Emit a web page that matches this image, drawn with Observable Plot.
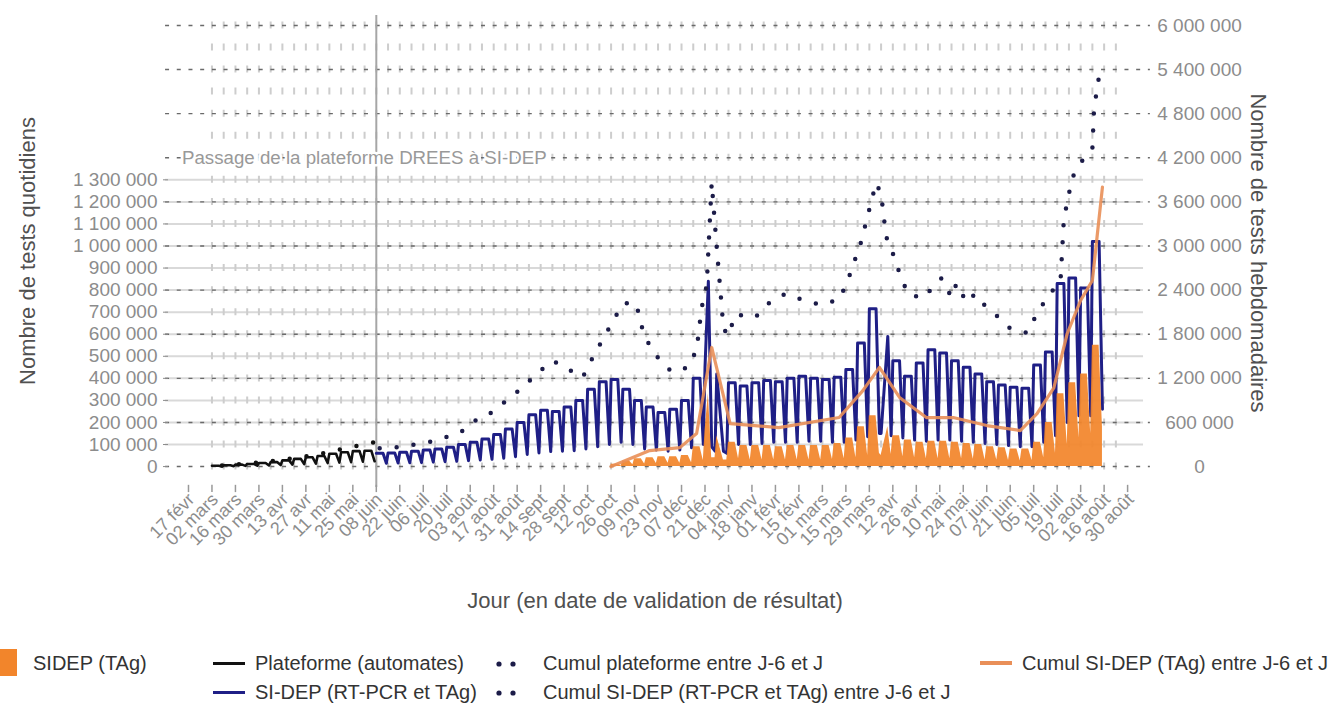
<!DOCTYPE html>
<html lang="fr">
<head>
<meta charset="utf-8">
<script src="https://cdn.jsdelivr.net/npm/d3@7"></script>
<script src="https://cdn.jsdelivr.net/npm/@observablehq/plot@0.6"></script>
<style>
html, body { margin:0; padding:0; background:#fff; width:1333px; height:711px; overflow:hidden; }
#chart svg { display:block; }
#legend { position:relative; width:1333px; height:71px; font-family:"Liberation Sans", Arial, sans-serif; font-size:20px; color:#333; }
#legend .it { position:absolute; white-space:nowrap; line-height:22px; }
</style>
</head>
<body>
<div id="chart"></div>
<div id="legend"></div>
<script>
// ---------------- DATA ----------------
// Daily series, per week: weekday level (Mon–Fri) and Sunday level, plus special days.
const plateformeWeekStart = "2020-03-02";
const plateformeWeekday = [4000, 6000, 9000, 12000, 16000, 20000, 28000, 35000, 42000, 48000, 58000, 65000, 70000, 72000];
const plateformeSunday  = [1000, 2000, 3000, 4000, 5000, 7000, 9000, 11000, 13000, 16000, 18000, 20000, 22000, 24000];

const siDepWeekStart = "2020-06-08";
const siDepWeekday = [60000, 62000, 65000, 70000, 75000, 80000, 88000, 100000, 110000, 125000,
  145000, 170000, 200000, 235000, 255000, 250000, 270000, 300000, 350000, 385000,
  395000, 350000, 300000, 270000, 245000, 260000, 300000, 400000, 450000, 420000,
  380000, 365000, 380000, 390000, 385000, 400000, 410000, 400000, 395000, 405000,
  440000, 560000, 715000, 590000, 480000, 410000, 470000, 530000, 515000, 480000,
  450000, 420000, 385000, 370000, 360000, 355000, 460000, 520000, 830000, 855000,
  810000, 1020000];
const siDepSunday = [15000, 16000, 17000, 18000, 20000, 22000, 24000, 27000, 30000, 33000,
  38000, 45000, 55000, 62000, 68000, 70000, 72000, 80000, 90000, 100000,
  110000, 100000, 80000, 75000, 70000, 75000, 85000, 100000, 70000, 60000,
  100000, 100000, 105000, 110000, 110000, 110000, 115000, 115000, 110000, 110000,
  120000, 135000, 150000, 140000, 130000, 120000, 115000, 120000, 120000, 115000,
  110000, 105000, 100000, 95000, 90000, 90000, 110000, 140000, 200000, 230000,
  230000, 260000];
const siDepSpecialDays = [["2020-12-23", 840000], ["2020-12-25", 90000], ["2021-01-01", 70000], ["2021-04-05", 150000]];

const tagWeekStart = "2020-10-26";
const tagWeekday = [10000, 25000, 35000, 40000, 45000, 45000, 50000, 90000, 160000, 140000,
  110000, 95000, 95000, 95000, 90000, 95000, 95000, 95000, 95000, 105000,
  130000, 180000, 230000, 180000, 140000, 120000, 110000, 115000, 115000, 110000,
  105000, 100000, 90000, 85000, 80000, 80000, 110000, 200000, 330000, 380000,
  420000, 550000];
const tagSunday = [3000, 8000, 12000, 14000, 15000, 15000, 17000, 28000, 40000, 30000,
  35000, 30000, 30000, 30000, 30000, 30000, 30000, 30000, 32000, 35000,
  40000, 50000, 60000, 55000, 45000, 40000, 35000, 35000, 35000, 35000,
  33000, 30000, 30000, 28000, 25000, 28000, 40000, 60000, 100000, 130000,
  150000, 180000];
const tagSpecialDays = [["2020-12-23", 330000], ["2020-12-25", 40000], ["2021-01-01", 30000], ["2021-04-05", 50000]];

// Weekly cumulative series (right axis): [date, value]
const cumulPlateforme = [
  ["2020-03-08", 15000], ["2020-03-22", 40000], ["2020-04-05", 70000], ["2020-04-19", 110000],
  ["2020-05-03", 160000], ["2020-05-17", 230000], ["2020-05-31", 300000], ["2020-06-07", 330000]
];
const cumulSiDep = [
  ["2020-06-10", 250000], ["2020-06-24", 270000], ["2020-07-11", 340000], ["2020-07-28", 460000],
  ["2020-08-06", 625000], ["2020-08-14", 707000], ["2020-08-26", 925000], ["2020-09-03", 1070000],
  ["2020-09-12", 1270000], ["2020-09-21", 1440000], ["2020-09-30", 1330000], ["2020-10-09", 1210000],
  ["2020-10-15", 1480000], ["2020-10-21", 1730000], ["2020-10-27", 1970000], ["2020-11-02", 2220000],
  ["2020-11-10", 2220000], ["2020-11-13", 1920000], ["2020-11-17", 1690000], ["2020-11-23", 1480000],
  ["2020-12-01", 1290000], ["2020-12-11", 1350000], ["2020-12-16", 1590000], ["2020-12-19", 2160000],
  ["2020-12-22", 2460000], ["2020-12-25", 3860000], ["2020-12-28", 2980000], ["2020-12-30", 2440000],
  ["2021-01-01", 1880000], ["2021-01-04", 1780000], ["2021-01-08", 2070000], ["2021-01-20", 2030000],
  ["2021-01-28", 2220000], ["2021-02-07", 2350000], ["2021-02-17", 2270000], ["2021-02-28", 2200000],
  ["2021-03-11", 2270000], ["2021-03-16", 2520000], ["2021-03-24", 3050000], ["2021-03-30", 3590000],
  ["2021-04-02", 3860000], ["2021-04-05", 3710000], ["2021-04-08", 3130000], ["2021-04-12", 2900000],
  ["2021-04-16", 2630000], ["2021-04-21", 2350000], ["2021-04-30", 2290000], ["2021-05-11", 2560000],
  ["2021-05-17", 2300000], ["2021-05-20", 2490000], ["2021-05-26", 2230000], ["2021-05-31", 2350000],
  ["2021-06-04", 2230000], ["2021-06-13", 2050000], ["2021-06-21", 1880000], ["2021-07-01", 1820000],
  ["2021-07-07", 2080000], ["2021-07-13", 2300000], ["2021-07-21", 2530000], ["2021-07-23", 3370000],
  ["2021-07-28", 3930000], ["2021-08-03", 4160000], ["2021-08-09", 4330000], ["2021-08-10", 4870000],
  ["2021-08-14", 5460000]
];
const cumulTag = [
  ["2020-10-26", 0], ["2020-11-18", 218000], ["2020-12-06", 258000], ["2020-12-16", 449000],
  ["2020-12-25", 1620000], ["2021-01-05", 585000], ["2021-02-03", 530000], ["2021-03-11", 667000],
  ["2021-03-25", 1030000], ["2021-04-04", 1350000], ["2021-04-16", 940000], ["2021-05-02", 667000],
  ["2021-05-18", 667000], ["2021-06-07", 558000], ["2021-06-27", 490000], ["2021-07-07", 721000],
  ["2021-07-17", 1070000], ["2021-07-25", 1810000], ["2021-08-02", 2260000], ["2021-08-09", 2530000],
  ["2021-08-12", 3170000], ["2021-08-15", 3800000]
];

// Axes
const leftTicks  = [0, 100000, 200000, 300000, 400000, 500000, 600000, 700000, 800000, 900000, 1000000, 1100000, 1200000, 1300000];
const rightTicks = [0, 600000, 1200000, 1800000, 2400000, 3000000, 3600000, 4200000, 4800000, 5400000, 6000000];
const xTickStart = "2020-02-17";
const xTickLabels = ["17 févr","02 mars","16 mars","30 mars","13 avr","27 avr","11 mai","25 mai","08 juin","22 juin",
  "06 juil","20 juil","03 août","17 août","31 août","14 sept","28 sept","12 oct","26 oct","09 nov",
  "23 nov","07 déc","21 déc","04 janv","18 janv","01 févr","15 févr","01 mars","15 mars","29 mars",
  "12 avr","26 avr","10 mai","24 mai","07 juin","21 juin","05 juil","19 juil","02 août","16 août","30 août"];
const passageDate = "2020-06-08";
const passageLabel = "Passage de la plateforme DREES à SI-DEP";
const leftTitle = "Nombre de tests quotidiens";
const rightTitle = "Nombre de tests hebdomadaires";
const xTitle = "Jour (en date de validation de résultat)";
const legendLabels = {
  tag: "SIDEP (TAg)",
  plateforme: "Plateforme (automates)",
  cumulPlateforme: "Cumul plateforme entre J-6 et J",
  cumulTag: "Cumul SI-DEP (TAg) entre J-6 et J",
  siDep: "SI-DEP (RT-PCR et TAg)",
  cumulSiDep: "Cumul SI-DEP (RT-PCR et TAg) entre J-6 et J"
};
const rightToLeftRatio = 3; // right axis value = 3 x left axis value

// ---------------- BUILD ----------------
const C = {
  navy: "#1f1f86", black: "#111111", orange: "#f2852b", orangeLine: "#e98f58",
  dots: "#1c1c48", grid: "#d9d9d9", dash: "#6a6a6a", tick: "#8c8c8c", title: "#505050"
};
function weekly(weekStart, weekday, sunday, special = []) {
  const s = new Date(weekStart), m = new Map();
  weekday.forEach((w, i) => {
    m.set(+d3.utcDay.offset(s, 7 * i), w);      // Monday
    m.set(+d3.utcDay.offset(s, 7 * i + 4), w);  // Friday
    m.set(+d3.utcDay.offset(s, 7 * i + 6), sunday[i]); // Sunday
  });
  special.forEach(([d, v]) => m.set(+new Date(d), v));
  return Array.from(m, ([t, v]) => ({date: new Date(t), value: v})).sort((a, b) => a.date - b.date);
}
const toObj = arr => arr.map(([d, v]) => ({date: new Date(d), value: v / rightToLeftRatio}));
const plateformeDaily = weekly(plateformeWeekStart, plateformeWeekday, plateformeSunday);
const siDepDaily = weekly(siDepWeekStart, siDepWeekday, siDepSunday, siDepSpecialDays);
const tagDaily = weekly(tagWeekStart, tagWeekday, tagSunday, tagSpecialDays);

const fmt = d3.formatLocale({decimal: ",", thousands: " ", grouping: [3], currency: ["", ""]}).format(",d");
const xTickDates = xTickLabels.map((_, i) => d3.utcDay.offset(new Date(xTickStart), 14 * i));
const weeklyGrid = d3.utcMonday.range(new Date("2020-03-02"), new Date("2021-08-24"));
const x0 = new Date(Date.UTC(2020, 1, 5, 2)), x1 = new Date(Date.UTC(2021, 8, 3, 17));
const xGridL = new Date(Date.UTC(2020, 1, 3, 8));
const xGridR = new Date(Date.UTC(2021, 8, 8, 12));
const xDashR = new Date(Date.UTC(2021, 8, 12, 14));
const leftGrid = leftTicks.filter(v => v > 0);
const rightGridLeftUnits = rightTicks.map(v => v / rightToLeftRatio);
const FONT = "Liberation Sans, Arial, sans-serif";

const chart = Plot.plot({
  width: 1333, height: 640,
  marginLeft: 168, marginRight: 198, marginTop: 15, marginBottom: 164,
  style: {fontFamily: FONT, fontSize: "15px", background: "white"},
  x: {type: "utc", domain: [x0, x1], axis: null},
  y: {domain: [-45000, 2045000], axis: null},
  marks: [
    Plot.ruleY(leftGrid, {x1: xGridL, x2: xGridR, stroke: C.grid, strokeWidth: 2}),
    Plot.ruleX(weeklyGrid, {y1: -75000, y2: 2040000, stroke: "#cdcdcd", strokeWidth: 2,
      strokeDasharray: "7,15.06", strokeDashoffset: 9.06}),
    Plot.ruleY(rightGridLeftUnits, {x1: xGridL, x2: xDashR, stroke: C.dash, strokeWidth: 1.4, strokeDasharray: "4,7.7"}),
    Plot.ruleX([new Date(passageDate)], {y1: -95000, y2: 2045000, stroke: "#a6a6a6", strokeWidth: 2}),
    Plot.line(plateformeDaily, {x: "date", y: "value", stroke: C.black, strokeWidth: 2.6}),
    Plot.line(siDepDaily, {x: "date", y: "value", stroke: C.navy, strokeWidth: 3}),
    Plot.areaY(tagDaily, {x: "date", y: "value", fill: C.orange, fillOpacity: 0.93}),
    Plot.line(toObj(cumulTag), {x: "date", y: "value", stroke: C.orangeLine, strokeWidth: 3.2, strokeOpacity: 0.9}),
    Plot.line(toObj(cumulPlateforme), {x: "date", y: "value", stroke: C.black, strokeWidth: 4.5,
      strokeDasharray: "0,17", strokeLinecap: "round"}),
    Plot.line(toObj(cumulSiDep), {x: "date", y: "value", stroke: C.dots, strokeWidth: 4.5,
      strokeDasharray: "0,17", strokeLinecap: "round"}),
    // left axis
    Plot.axisY({ticks: leftTicks, anchor: "left", tickFormat: fmt, tickSize: 5, tickPadding: 6,
      fontSize: 19, color: C.tick, label: null}),
    // right axis labels
    Plot.text(rightTicks, {x: x1, y: v => v / rightToLeftRatio, text: v => fmt(v), dx: 64,
      textAnchor: "middle", fill: C.tick, fontSize: 19}),
    // x axis
    Plot.ruleX(xTickDates, {y1: -85000, y2: -118000, stroke: "#999", strokeWidth: 1.5}),
    Plot.text(xTickDates, {x: d => d, y: -122000, text: (d, i) => xTickLabels[i], rotate: -45,
      textAnchor: "end", lineAnchor: "middle", dx: 3, dy: 3, fontSize: 18, fill: C.tick}),
    // annotation
    Plot.text([passageLabel], {x: () => new Date(passageDate), y: 1400000, text: d => d, dx: -12,
      textAnchor: "middle", lineAnchor: "middle", fontSize: 18.7, fill: "#999", stroke: "white", strokeWidth: 5}),
    // titles
    Plot.text([leftTitle], {frameAnchor: "left", text: d => d, dx: -141, dy: 5, rotate: -90,
      textAnchor: "middle", lineAnchor: "middle", fontSize: 22, fill: C.title}),
    Plot.text([rightTitle], {frameAnchor: "right", text: d => d, dx: 123, dy: 7, rotate: 90,
      textAnchor: "middle", lineAnchor: "middle", fontSize: 22, fill: C.title}),
    Plot.text([xTitle], {frameAnchor: "bottom", text: d => d, dx: 3, dy: 124,
      textAnchor: "middle", lineAnchor: "middle", fontSize: 22, fill: C.title})
  ]
});
document.getElementById("chart").append(chart);

// ---------------- LEGEND ----------------
const lg = document.getElementById("legend");
function add(html, style) {
  const el = document.createElement("div");
  el.className = "it";
  el.innerHTML = html;
  Object.assign(el.style, style);
  lg.append(el);
}
function dotsSvg(color) {
  return `<svg width="28" height="10"><circle cx="5" cy="5" r="2.6" fill="${color}"/><circle cx="19" cy="5" r="2.6" fill="${color}"/></svg>`;
}
// row 1 (center y = 23)
add("", {left: "0px", top: "9px", width: "17px", height: "27px", background: C.orange});
add(legendLabels.tag, {left: "33px", top: "12px"});
add("", {left: "213px", top: "21.5px", width: "32px", height: "3px", background: C.black});
add(legendLabels.plateforme, {left: "255px", top: "12px"});
add(dotsSvg(C.dots), {left: "494px", top: "17px", lineHeight: "10px", height: "10px"});
add(legendLabels.cumulPlateforme, {left: "543px", top: "12px"});
add("", {left: "980px", top: "21px", width: "32px", height: "4px", background: C.orangeLine});
add(legendLabels.cumulTag, {left: "1022px", top: "12px"});
// row 2 (center y = 52)
add("", {left: "213px", top: "50.5px", width: "32px", height: "3px", background: C.navy});
add(legendLabels.siDep, {left: "255px", top: "41px"});
add(dotsSvg(C.dots), {left: "494px", top: "46px", lineHeight: "10px", height: "10px"});
add(legendLabels.cumulSiDep, {left: "543px", top: "41px"});
</script>
</body>
</html>
